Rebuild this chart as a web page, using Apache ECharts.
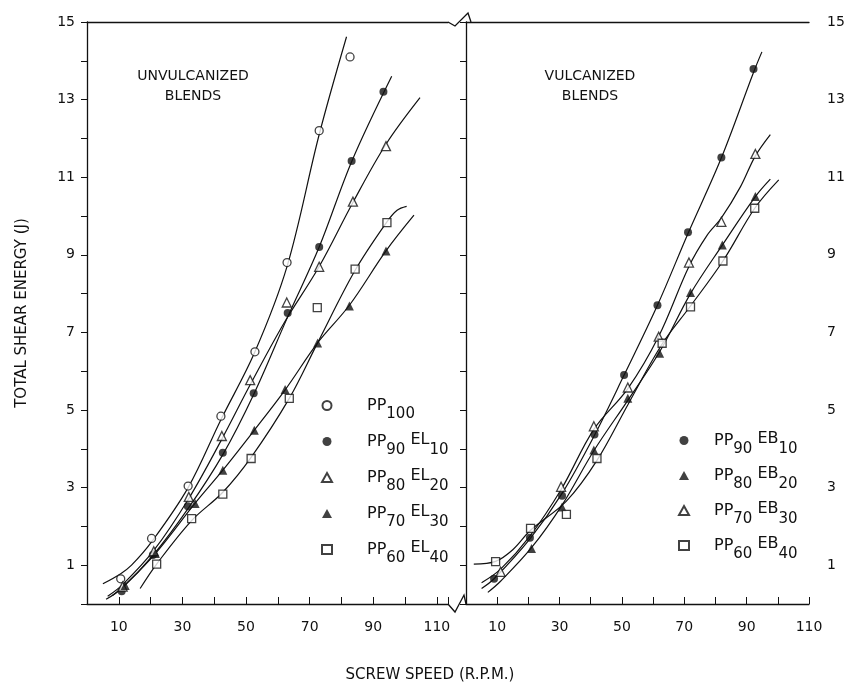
<!DOCTYPE html>
<html>
<head>
<meta charset="utf-8">
<script src="https://cdn.jsdelivr.net/npm/echarts@6/dist/echarts.min.js"></script>
<style>
  html, body { margin: 0; padding: 0; background: #fff; }
  #chart { width: 856px; height: 684px; }
</style>
</head>
<body>
<div id="chart"></div>
<script>
// unvulcanized blends, measured points [rpm, J]
const pp100 = [[10.6, 0.65], [20.3, 1.69], [31.8, 3.04], [42.1, 4.84], [52.8, 6.5], [62.9, 8.8], [73, 12.2], [82.7, 14.1]]
const pp90el10 = [[10.9, 0.33], [20.7, 1.26], [31.7, 2.52], [42.7, 3.9], [52.4, 5.43], [63.1, 7.5], [73, 9.2], [83.2, 11.42], [93.2, 13.2]]
const pp80el20 = [[11.2, 0.45], [21, 1.36], [32, 2.76], [42.4, 4.33], [51.3, 5.77], [62.8, 7.77], [73, 8.69], [83.6, 10.37], [94, 11.8]]
const pp70el30 = [[12, 0.48], [21.5, 1.3], [34, 2.59], [42.7, 3.45], [52.6, 4.48], [62.3, 5.53], [72.5, 6.73], [82.5, 7.68], [94, 9.1]]
const pp60el40 = [[21.9, 1.03], [32.9, 2.2], [42.7, 2.83], [51.6, 3.75], [63.6, 5.3], [72.4, 7.64], [84.3, 8.63], [94.3, 9.83]]

// hand drawn fit curves (unvulcanized)
const pp100Fit = [[5, 0.52], [10.6, 0.78], [14, 1.0], [20.3, 1.6], [31.8, 3.0], [42.1, 4.75], [52.8, 6.5], [62.9, 8.7], [73, 12.1], [81.6, 14.62]]
const pp90el10Fit = [[6, 0.12], [10.9, 0.4], [20.7, 1.25], [31.7, 2.45], [42.7, 3.85], [52.4, 5.4], [63.1, 7.4], [73, 9.2], [83.2, 11.4], [95.8, 13.6]]
const pp80el20Fit = [[6.5, 0.2], [11.2, 0.5], [21, 1.38], [32, 2.72], [42.4, 4.25], [51.3, 5.65], [62, 7.25], [73, 8.7], [83.6, 10.35], [94, 11.85], [104.7, 13.05]]
const pp70el30Fit = [[8, 0.22], [12, 0.5], [21.5, 1.3], [34, 2.6], [42.7, 3.45], [52.6, 4.48], [62.3, 5.52], [72.5, 6.73], [82.5, 7.7], [94, 9.1], [102.8, 10.02]]
const pp60el40Fit = [[16.7, 0.4], [21.9, 1.03], [32.9, 2.15], [42.7, 2.88], [51.6, 3.78], [63.6, 5.3], [72.5, 6.73], [84.3, 8.6], [94.3, 9.85], [97.5, 10.15], [100.5, 10.25]]

// vulcanized blends, measured points [rpm, J]
const pp90eb10 = [[9, 0.65], [20.5, 1.71], [30.8, 2.79], [41.2, 4.37], [50.7, 5.9], [61.4, 7.7], [71.2, 9.58], [81.9, 11.51], [92.2, 13.79]]
const pp80eb20 = [[21, 1.43], [30.8, 2.5], [41, 3.97], [51.9, 5.3], [62.1, 6.46], [72, 8.03], [82.2, 9.25], [92.8, 10.5]]
const pp70eb30 = [[11.1, 0.83], [30.5, 3.02], [41, 4.58], [51.9, 5.58], [61.8, 6.89], [71.5, 8.8], [81.9, 9.85], [92.8, 11.6]]
const pp60eb40 = [[9.5, 1.09], [20.7, 1.95], [32.2, 2.31], [42, 3.75], [62.9, 6.72], [72, 7.66], [82.4, 8.84], [92.6, 10.2]]

// hand drawn fit curves (vulcanized)
const pp90eb10Fit = [[5, 0.4], [9, 0.65], [20.5, 1.68], [30.8, 2.85], [41.2, 4.35], [50.7, 5.9], [61.4, 7.7], [71.2, 9.55], [81.9, 11.5], [92.2, 13.7], [94.9, 14.23]]
const pp80eb20Fit = [[7, 0.3], [11, 0.58], [21, 1.45], [30.8, 2.55], [41, 3.95], [51.9, 5.25], [62.1, 6.5], [72, 8.0], [82.2, 9.25], [92.8, 10.5], [97.6, 10.95]]
const pp70eb30Fit = [[5, 0.55], [11.1, 0.9], [20.5, 1.75], [30.5, 2.95], [41, 4.5], [51.9, 5.55], [61.8, 6.9], [71.5, 8.7], [77.3, 9.5], [81.9, 9.95], [88, 10.75], [92.8, 11.55], [97.6, 12.1]]
const pp60eb40Fit = [[2.5, 1.03], [9.5, 1.1], [15, 1.4], [20.7, 1.9], [32.2, 2.65], [42, 3.7], [52, 5.15], [62.9, 6.7], [72, 7.68], [82.4, 8.84], [92.6, 10.2], [100.3, 10.93]]

const leftNames = ['PP100', 'PP90EL10', 'PP80EL20', 'PP70EL30', 'PP60EL40']
const rightNames = ['PP90EB10', 'PP80EB20', 'PP70EB30', 'PP60EB40']

const ink = '#111'
const font = 'DejaVu Sans'

// PP90EL10 -> PP with subscript 90, EL with subscript 10
const richName = (name) => name.match(/[A-Z]+\d+/g).map((part, i) => {
  const m = part.match(/([A-Z]+)(\d+)/)
  return `{${i ? 'e' : 'b'}|${m[1]}}{s|${m[2]}}`
}).join(' ')

const marks = (name, data, shape, open, idx) => ({
  type: 'scatter',
  name,
  data,
  xAxisIndex: idx,
  yAxisIndex: idx,
  symbol: shape,
  symbolSize: shape === 'triangle' ? 9 : 8,
  itemStyle: open
    ? { color: '#fff', borderColor: ink, borderWidth: 1.3 }
    : { color: ink },
  z: 3
})

const fit = (data, idx) => ({
  type: 'line',
  data,
  xAxisIndex: idx,
  yAxisIndex: idx,
  smooth: 0.35,
  showSymbol: false,
  symbol: 'none',
  silent: true,
  lineStyle: { color: ink, width: 1.2 },
  z: 2
})

const bottomAxis = (gridIndex, max) => ({
  type: 'value',
  gridIndex,
  min: 0,
  max,
  interval: 10,
  axisLine: { show: true, lineStyle: { color: ink, width: 1.3 } },
  axisTick: { show: true, inside: true, length: 7, lineStyle: { color: ink } },
  axisLabel: {
    color: ink,
    fontFamily: font,
    fontSize: 14,
    margin: 16,
    formatter: v => (v % 20 === 10 ? String(v) : '')
  },
  splitLine: { show: false }
})

const topAxis = (gridIndex, max) => ({
  type: 'value',
  gridIndex,
  position: 'top',
  min: 0,
  max,
  axisLine: { show: true, lineStyle: { color: ink, width: 1.3 } },
  axisTick: { show: false },
  axisLabel: { show: false },
  splitLine: { show: false }
})

const energyAxis = (gridIndex, position) => ({
  type: 'value',
  gridIndex,
  position,
  min: 0,
  max: 15,
  interval: 1,
  axisLine: { show: true, lineStyle: { color: ink, width: 1.3 } },
  axisTick: { show: true, inside: position === 'right', length: 6, lineStyle: { color: ink } },
  axisLabel: {
    color: ink,
    fontFamily: font,
    fontSize: 14,
    margin: position === 'right' ? 18 : 12,
    formatter: v => (v % 2 === 1 ? String(v) : '')
  },
  splitLine: { show: false }
})

const legendText = (gap) => ({
  color: ink,
  fontFamily: font,
  fontSize: 16,
  padding: [0, 0, 0, gap],
  rich: {
    b: { fontFamily: font, fontSize: 16, lineHeight: 18, color: ink },
    e: { fontFamily: font, fontSize: 16, lineHeight: 18, color: ink, padding: [0, 0, 4, 0] },
    s: { fontFamily: font, fontSize: 15, lineHeight: 18, color: ink, padding: [18, 0, 0, 0] }
  }
})

const option = {
  backgroundColor: '#fff',
  animation: false,
  grid: [
    { left: 87, top: 22, width: 361, height: 582 },
    { left: 466, top: 22, width: 343, height: 582 }
  ],
  xAxis: [
    bottomAxis(0, 113.5),
    bottomAxis(1, 110),
    topAxis(0, 113.5),
    topAxis(1, 110)
  ],
  yAxis: [
    {
      ...energyAxis(0, 'left'),
      name: 'TOTAL SHEAR ENERGY (J)',
      nameLocation: 'middle',
      nameGap: 57,
      nameTextStyle: { color: ink, fontFamily: font, fontSize: 15 }
    },
    energyAxis(1, 'right')
  ],
  legend: [
    {
      data: leftNames,
      orient: 'vertical',
      left: 316,
      top: 384,
      itemWidth: 10,
      itemHeight: 9,
      itemGap: 3,
      selectedMode: false,
      formatter: richName,
      textStyle: legendText(30)
    },
    {
      data: rightNames,
      orient: 'vertical',
      left: 673,
      top: 419,
      itemWidth: 10,
      itemHeight: 9,
      itemGap: 2,
      selectedMode: false,
      formatter: richName,
      textStyle: legendText(20)
    }
  ],
  graphic: [
    // axis breaks
    {
      type: 'polyline',
      shape: { points: [[448, 22], [455, 26], [468, 13], [471, 22]] },
      style: { stroke: ink, lineWidth: 1.3, fill: null }
    },
    {
      type: 'polyline',
      shape: { points: [[448, 604], [455, 612], [464, 595], [466, 604]] },
      style: { stroke: ink, lineWidth: 1.3, fill: null }
    },
    {
      type: 'text',
      x: 193,
      y: 66,
      style: {
        text: 'UNVULCANIZED\nBLENDS',
        textAlign: 'center',
        fontFamily: font,
        fontSize: 14,
        lineHeight: 20,
        fill: ink
      }
    },
    {
      type: 'text',
      x: 590,
      y: 66,
      style: {
        text: 'VULCANIZED\nBLENDS',
        textAlign: 'center',
        fontFamily: font,
        fontSize: 14,
        lineHeight: 20,
        fill: ink
      }
    },
    {
      type: 'text',
      x: 430,
      y: 668,
      style: {
        text: 'SCREW SPEED (R.P.M.)',
        textAlign: 'center',
        fontFamily: font,
        fontSize: 15,
        fill: ink
      }
    }
  ],
  series: [
    fit(pp100Fit, 0),
    fit(pp90el10Fit, 0),
    fit(pp80el20Fit, 0),
    fit(pp70el30Fit, 0),
    fit(pp60el40Fit, 0),
    fit(pp90eb10Fit, 1),
    fit(pp80eb20Fit, 1),
    fit(pp70eb30Fit, 1),
    fit(pp60eb40Fit, 1),
    marks('PP100', pp100, 'circle', true, 0),
    marks('PP90EL10', pp90el10, 'circle', false, 0),
    marks('PP80EL20', pp80el20, 'triangle', true, 0),
    marks('PP70EL30', pp70el30, 'triangle', false, 0),
    marks('PP60EL40', pp60el40, 'rect', true, 0),
    marks('PP90EB10', pp90eb10, 'circle', false, 1),
    marks('PP80EB20', pp80eb20, 'triangle', false, 1),
    marks('PP70EB30', pp70eb30, 'triangle', true, 1),
    marks('PP60EB40', pp60eb40, 'rect', true, 1)
  ]
}

const chart = echarts.init(document.getElementById('chart'))
chart.setOption(option)
window.addEventListener('resize', () => chart.resize())
</script>
</body>
</html>
